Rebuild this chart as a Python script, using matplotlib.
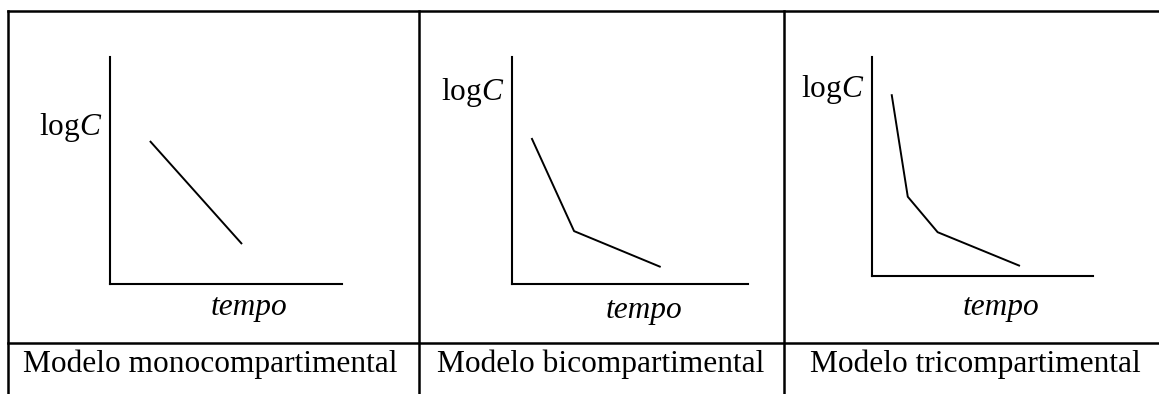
import matplotlib.pyplot as plt
from matplotlib.lines import Line2D

# Schematic log-concentration vs time curves (arbitrary units, 0-10 on both axes)
mono_t = [1.72, 5.69]
mono_logc = [6.30, 1.76]

bi_t = [0.83, 2.63, 6.30]
bi_logc = [6.43, 2.33, 0.75]

tri_t = [0.90, 1.63, 2.98, 6.70]
tri_logc = [8.30, 3.62, 2.00, 0.46]

captions = [
    "Modelo monocompartimental",
    "Modelo bicompartimental",
    "Modelo tricompartimental",
]
y_label = "log$C$"
x_label = "tempo"

plt.rcParams["font.family"] = "Liberation Serif"
plt.rcParams["mathtext.fontset"] = "custom"
plt.rcParams["mathtext.rm"] = "Liberation Serif"
plt.rcParams["mathtext.it"] = "Liberation Serif:italic"
fontsize = 22.6

W, H = 1159, 394
fig = plt.figure(figsize=(W / 100, H / 100), dpi=100)


def px_rect(left, right, top, bottom):
    # pixel box -> figure fraction rect
    return [left / W, 1 - bottom / H, (right - left) / W, (bottom - top) / H]


panels = [
    # axes box in px, curve, logC label pos, tempo label pos
    ((110, 342, 57, 284), mono_t, mono_logc, (-0.034, 0.656), (0.597, -0.137)),
    ((512, 748, 57, 284), bi_t, bi_logc, (-0.034, 0.811), (0.558, -0.150)),
    ((871.7, 1093, 57, 276), tri_t, tri_logc, (-0.035, 0.819), (0.586, -0.178)),
]

for box, t, logc, ylab_pos, xlab_pos in panels:
    ax = fig.add_axes(px_rect(*box))
    ax.plot(t, logc, color="black", linewidth=1.4, solid_capstyle="butt")
    ax.set_xlim(0, 10)
    ax.set_ylim(0, 10)
    ax.spines["top"].set_visible(False)
    ax.spines["right"].set_visible(False)
    for s in ("left", "bottom"):
        ax.spines[s].set_linewidth(1.5)
    ax.set_xticks([])
    ax.set_yticks([])
    ax.patch.set_alpha(0)
    ax.text(ylab_pos[0], ylab_pos[1], y_label, transform=ax.transAxes,
            ha="right", va="baseline", fontsize=fontsize)
    ax.text(xlab_pos[0], xlab_pos[1], x_label, transform=ax.transAxes,
            ha="center", va="baseline", fontsize=fontsize, style="italic")

# Table grid
lw = 1.8
table_lines = [
    ((8, W), (11, 11)),
    ((8, W), (343, 343)),
    ((8, 8), (11, H)),
    ((419, 419), (11, H)),
    ((784, 784), (11, H)),
]
for xs, ys in table_lines:
    fig.add_artist(Line2D([x / W for x in xs], [1 - y / H for y in ys],
                          color="black", linewidth=lw))

caption_x = [23, 436.7, 810]
for cx, text in zip(caption_x, captions):
    fig.text(cx / W, 1 - 372 / H, text, ha="left", va="baseline", fontsize=fontsize)

plt.savefig("out.png", dpi=100)
